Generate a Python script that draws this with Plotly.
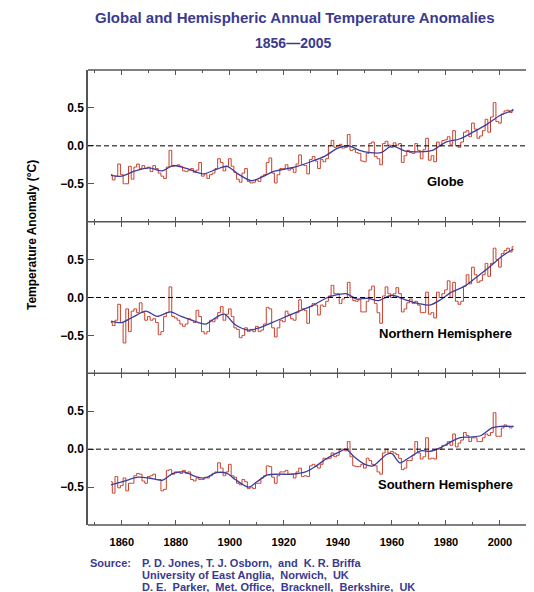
import plotly.graph_objects as go
from plotly.subplots import make_subplots

# annual anomalies (deg C), 1856-2005
years = list(range(1856, 2006))

globe = [
    -0.38, -0.45, -0.40, -0.24,
    -0.38, -0.50, -0.50, -0.27, -0.44, -0.28, -0.24, -0.30, -0.26, -0.30,
    -0.28, -0.34, -0.26, -0.30, -0.36, -0.40, -0.43, -0.28, -0.06, -0.27,
    -0.26, -0.25, -0.27, -0.33, -0.34, -0.32, -0.30, -0.35, -0.32, -0.22,
    -0.40, -0.37, -0.43, -0.38, -0.36, -0.30, -0.17, -0.22, -0.33, -0.27,
    -0.17, -0.27, -0.35, -0.44, -0.48, -0.36, -0.30, -0.47, -0.49, -0.48,
    -0.45, -0.47, -0.40, -0.38, -0.22, -0.16, -0.36, -0.49, -0.38, -0.30,
    -0.30, -0.25, -0.32, -0.30, -0.35, -0.24, -0.12, -0.25, -0.26, -0.37,
    -0.18, -0.14, -0.20, -0.30, -0.18, -0.21, -0.17, 0.00, 0.07, -0.02,
    0.00, 0.02, -0.03, -0.02, 0.15, -0.06, -0.05, -0.09, -0.10, -0.20,
    -0.21, -0.10, 0.03, 0.05, -0.14, -0.17, -0.25, 0.03, 0.06, 0.01,
    -0.02, 0.04, 0.01, 0.03, -0.22, -0.13, -0.06, -0.09, -0.10, 0.03,
    -0.06, -0.17, -0.05, 0.10, -0.19, -0.13, -0.21, 0.05, 0.00, 0.07,
    0.08, 0.12, 0.02, 0.20, 0.00, -0.02, 0.05, 0.18, 0.20, 0.12,
    0.30, 0.22, 0.10, 0.13, 0.20, 0.35, 0.18, 0.38, 0.57, 0.32,
    0.30, 0.42, 0.46, 0.47, 0.44, 0.48,
]

north = [
    -0.33, -0.37, -0.30, -0.09,
    -0.33, -0.60, -0.15, -0.45, -0.18, -0.15, -0.20, -0.07, -0.20, -0.30,
    -0.25, -0.30, -0.28, -0.33, -0.49, -0.45, -0.25, -0.20, 0.14, -0.25,
    -0.27, -0.30, -0.35, -0.38, -0.35, -0.28, -0.30, -0.33, -0.17, -0.25,
    -0.45, -0.48, -0.45, -0.30, -0.32, -0.28, -0.20, -0.12, -0.30, -0.22,
    -0.15, -0.25, -0.40, -0.42, -0.53, -0.50, -0.40, -0.45, -0.42, -0.45,
    -0.38, -0.45, -0.43, -0.35, -0.13, -0.15, -0.40, -0.52, -0.40, -0.30,
    -0.32, -0.18, -0.22, -0.28, -0.30, -0.20, -0.03, -0.15, -0.17, -0.34,
    -0.12, -0.08, -0.10, -0.23, -0.10, -0.12, -0.05, 0.02, 0.16, 0.05,
    0.05, -0.08, -0.02, 0.00, 0.20, 0.00, -0.04, -0.05, -0.03, -0.19,
    -0.19, -0.05, 0.10, 0.15, -0.08, -0.20, -0.34, 0.02, 0.14, 0.05,
    0.00, 0.05, 0.13, 0.05, -0.19, -0.15, -0.07, -0.02, -0.08, -0.05,
    -0.10, -0.20, -0.20, 0.07, -0.22, -0.20, -0.27, 0.07, 0.00, 0.05,
    0.10, 0.22, 0.00, 0.20, -0.05, -0.09, -0.05, 0.15, 0.30, 0.18,
    0.40, 0.30, 0.20, 0.22, 0.30, 0.45, 0.28, 0.45, 0.65, 0.50,
    0.40, 0.58, 0.62, 0.65, 0.60, 0.67,
]

south = [
    -0.43, -0.58, -0.36, -0.51,
    -0.48, -0.38, -0.55, -0.45, -0.45, -0.35, -0.32, -0.33, -0.42, -0.45,
    -0.36, -0.35, -0.33, -0.40, -0.40, -0.55, -0.53, -0.28, -0.27, -0.33,
    -0.30, -0.30, -0.32, -0.28, -0.32, -0.30, -0.40, -0.42, -0.38, -0.40,
    -0.40, -0.37, -0.38, -0.35, -0.32, -0.30, -0.18, -0.25, -0.35, -0.30,
    -0.20, -0.35, -0.37, -0.45, -0.47, -0.40, -0.43, -0.52, -0.50, -0.52,
    -0.45, -0.45, -0.38, -0.35, -0.22, -0.23, -0.37, -0.45, -0.35, -0.30,
    -0.30, -0.28, -0.33, -0.33, -0.38, -0.30, -0.25, -0.36, -0.35, -0.36,
    -0.22, -0.20, -0.23, -0.25, -0.20, -0.12, -0.13, -0.12, -0.05, -0.10,
    -0.08, 0.00, 0.00, -0.02, 0.10, -0.10, -0.22, -0.23, -0.23, -0.20,
    -0.25, -0.12, -0.15, -0.20, -0.22, -0.30, -0.33, -0.05, 0.00, -0.05,
    -0.03, -0.05, -0.07, -0.12, -0.27, -0.25, -0.15, -0.15, -0.08, 0.10,
    -0.05, -0.13, -0.10, 0.15, -0.13, -0.12, -0.13, 0.00, 0.00, 0.05,
    0.05, 0.10, 0.05, 0.20, 0.03, 0.08, 0.12, 0.22, 0.18, 0.10,
    0.15, 0.15, 0.10, 0.10, 0.15, 0.20, 0.18, 0.22, 0.48, 0.17,
    0.17, 0.28, 0.32, 0.30, 0.28, 0.30,
]

# smoothed curves, read at a handful of years
globe_smooth_years = [1856, 1860, 1865, 1870, 1875, 1879, 1885, 1890, 1895, 1899, 1903,
                      1908, 1912, 1916, 1920, 1925, 1930, 1935, 1940, 1944, 1948, 1952,
                      1956, 1960, 1965, 1970, 1975, 1980, 1985, 1990, 1995, 2000, 2005]
globe_smooth = [-0.39, -0.40, -0.33, -0.29, -0.33, -0.26, -0.31, -0.37, -0.31, -0.27, -0.37,
                -0.46, -0.41, -0.34, -0.31, -0.27, -0.21, -0.14, -0.03, 0.00, -0.06, -0.09,
                -0.09, 0.00, -0.07, -0.08, -0.06, 0.05, 0.09, 0.18, 0.28, 0.40, 0.47]

north_smooth_years = [1856, 1860, 1864, 1869, 1873, 1878, 1882, 1886, 1891, 1895, 1898, 1902,
                      1907, 1911, 1915, 1919, 1923, 1927, 1931, 1935, 1939, 1943, 1947, 1951,
                      1955, 1960, 1965, 1970, 1974, 1978, 1982, 1987, 1991, 1996, 2001, 2005]
north_smooth = [-0.31, -0.33, -0.26, -0.18, -0.25, -0.19, -0.25, -0.30, -0.35, -0.26, -0.22, -0.36,
                -0.43, -0.40, -0.34, -0.28, -0.22, -0.16, -0.10, -0.02, 0.03, 0.05, -0.02, -0.01,
                -0.04, 0.03, -0.03, -0.08, -0.10, -0.03, 0.07, 0.15, 0.26, 0.40, 0.55, 0.64]

south_smooth_years = [1856, 1861, 1866, 1870, 1875, 1879, 1883, 1888, 1891, 1895, 1899, 1902,
                      1907, 1910, 1914, 1918, 1923, 1928, 1932, 1936, 1941, 1943, 1946, 1950,
                      1953, 1958, 1960, 1963, 1966, 1971, 1974, 1978, 1981, 1985, 1989, 1993,
                      1997, 2000, 2005]
south_smooth = [-0.47, -0.42, -0.37, -0.38, -0.41, -0.32, -0.30, -0.37, -0.38, -0.31, -0.32, -0.40,
                -0.50, -0.43, -0.34, -0.33, -0.33, -0.30, -0.22, -0.12, -0.03, 0.00, -0.10, -0.20,
                -0.22, -0.07, -0.06, -0.18, -0.12, -0.02, -0.03, 0.02, 0.08, 0.15, 0.16, 0.18,
                0.28, 0.30, 0.30]

panel_names = ["Globe", "Northern Hemisphere", "Southern Hemisphere"]
y_ticks = [-0.5, 0.0, 0.5]
y_tick_text = ["\u22120.5", "0.0", "0.5"]

RED = "#c8402c"
BLUE = "#3c3c9c"
TITLE_BLUE = "#3a3a8e"
FRAME = "#555555"
FONT = "Arial, Liberation Sans, sans-serif"

# the page body adds an 8px margin, so the figure is laid out 8px smaller
W, H = 526, 584
L, T, B = 80, 62, 67


def px_x(p):
    # reference-picture pixel -> paper x
    return (p - 8 - L) / (W - L)


def px_y(p):
    return (H - B - (p - 8)) / (H - B - T)


fig = make_subplots(rows=3, cols=1, shared_xaxes=True, vertical_spacing=0)

panels = [
    (globe, globe_smooth_years, globe_smooth),
    (north, north_smooth_years, north_smooth),
    (south, south_smooth_years, south_smooth),
]
for i, (annual, sm_x, sm_y) in enumerate(panels, start=1):
    fig.add_trace(go.Scatter(x=years, y=annual, mode="lines", line_shape="hvh",
                             line=dict(color=RED, width=1), showlegend=False),
                  row=i, col=1)
    fig.add_trace(go.Scatter(x=sm_x, y=sm_y, mode="lines", line_shape="spline",
                             line=dict(color=BLUE, width=1.3, smoothing=0.8), showlegend=False),
                  row=i, col=1)
    fig.add_hline(y=0, line=dict(color="black", width=1, dash="5px,3px"), row=i, col=1)
    suffix = str(i) if i > 1 else ""
    fig.add_annotation(x=1980, y=-0.47, xref="x" + suffix, yref="y" + suffix,
                       text=f"<b>{panel_names[i - 1]}</b>", showarrow=False,
                       font=dict(size=13, color="black", family=FONT))

fig.update_xaxes(range=[1847.5, 2012.6], tick0=1860, dtick=20, ticks="inside", ticklen=5,
                 tickwidth=1.3, tickcolor=FRAME, showline=False, mirror="ticks",
                 showgrid=False, zeroline=False,
                 minor=dict(dtick=10, tick0=1850, ticks="inside", ticklen=3, tickcolor=FRAME))
fig.update_xaxes(tickfont=dict(size=11, color="black", family=FONT), ticklabelstandoff=9,
                 tickprefix="<b>", ticksuffix="</b>", row=3, col=1)
fig.update_yaxes(range=[-1, 1], tickvals=y_ticks, ticktext=[f"<b>{t}</b>" for t in y_tick_text],
                 ticks="inside", ticklen=6, tickcolor=FRAME, showline=True, linecolor=FRAME,
                 linewidth=1.5, showgrid=False, zeroline=False,
                 tickfont=dict(size=12, color="black", family=FONT))

# horizontal frame lines between the panels
for yb in [0, 1 / 3, 2 / 3, 1]:
    fig.add_shape(type="line", xref="paper", yref="paper", x0=0, x1=1, y0=yb, y1=yb,
                  line=dict(color=FRAME, width=1.5))

sp = "&nbsp;"
texts = [
    (295, 18, "<b>Global and Hemispheric Annual Temperature Anomalies</b>", 15, TITLE_BLUE, "center"),
    (293, 43, "<b>1856\u20142005</b>", 14, TITLE_BLUE, "center"),
    (89, 563, "<b>Source:</b>", 11, TITLE_BLUE, "left"),
    (141, 563, f"<b>P. D. Jones, T. J. Osborn,{sp}{sp}and{sp}{sp}K. R. Briffa</b>", 11, TITLE_BLUE, "left"),
    (141, 575, f"<b>University of East Anglia,{sp} Norwich,{sp} UK</b>", 11, TITLE_BLUE, "left"),
    (141, 587, f"<b>D. E.{sp} Parker,{sp} Met. Office,{sp} Bracknell,{sp} Berkshire,{sp} UK</b>",
     11, TITLE_BLUE, "left"),
]
for x, y, t, size, color, anchor in texts:
    fig.add_annotation(x=px_x(x), y=px_y(y), xref="paper", yref="paper", text=t,
                       showarrow=False, xanchor=anchor, yanchor="middle", borderpad=0,
                       font=dict(size=size, color=color, family=FONT))

fig.add_annotation(x=px_x(32), y=px_y(235), xref="paper", yref="paper",
                   text="<b>Temperature Anomaly (\u00b0C)</b>", textangle=-90, showarrow=False,
                   xanchor="center", yanchor="middle",
                   font=dict(size=12, color="black", family=FONT))

fig.update_layout(width=W, height=H, margin=dict(l=L, r=0, t=T, b=B),
                  paper_bgcolor="white", plot_bgcolor="white", font=dict(family=FONT))

fig.write_html("out.html")
